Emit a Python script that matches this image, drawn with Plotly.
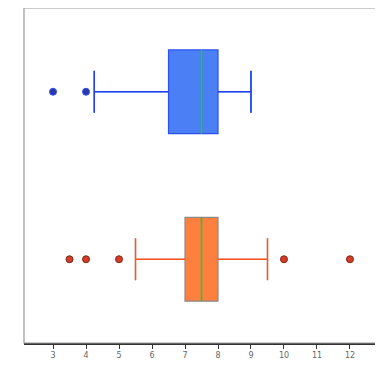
import plotly.graph_objects as go

# Data
groups = ["B", "A"]            # bottom (orange), top (blue)
positions = [1, 2]
q1 = [7.0, 6.5]
median = [7.5, 7.5]
q3 = [8.0, 8.0]
lowerfence = [5.5, 4.25]
upperfence = [9.5, 9.0]
outliers_orange = [3.5, 4.0, 5.0, 10.0, 12.0]
outliers_blue = [3.0, 4.0]
xticks = [3, 4, 5, 6, 7, 8, 9, 10, 11, 12]

fill_colors = ["#ff7f3f", "#4a7ff6"]
edge_colors = ["#8a8a8a", "#2a50f0"]
whisker_colors = ["#ff5522", "#2040f0"]
BW = 0.5

fig = go.Figure()
for i in range(2):
    fig.add_trace(go.Box(
        orientation="h", y=[positions[i]], q1=[q1[i]], median=[median[i]], q3=[q3[i]],
        lowerfence=[lowerfence[i]], upperfence=[upperfence[i]],
        fillcolor=fill_colors[i], line=dict(color=edge_colors[i], width=1.2),
        width=BW, whiskerwidth=0.5, showlegend=False, hoverinfo="skip",
        opacity=1))
    p = positions[i]
    h = BW * 0.5 / 2
    wx = [lowerfence[i], q1[i], None, q3[i], upperfence[i], None,
          lowerfence[i], lowerfence[i], None, upperfence[i], upperfence[i]]
    wy = [p, p, None, p, p, None, p - h, p + h, None, p - h, p + h]
    fig.add_trace(go.Scatter(x=wx, y=wy, mode="lines",
                             line=dict(color=whisker_colors[i], width=1.5),
                             showlegend=False, hoverinfo="skip"))
    fig.add_trace(go.Scatter(x=[median[i], median[i]], y=[p - BW / 2, p + BW / 2],
                             mode="lines", line=dict(color="#22cc22", width=1.5),
                             showlegend=False, hoverinfo="skip"))

fig.add_trace(go.Scatter(x=outliers_orange, y=[positions[0]] * len(outliers_orange),
                         mode="markers",
                         marker=dict(color="#d63a2a", size=7, line=dict(color="#7a2a10", width=1)),
                         showlegend=False, hoverinfo="skip"))
fig.add_trace(go.Scatter(x=outliers_blue, y=[positions[1]] * len(outliers_blue),
                         mode="markers",
                         marker=dict(color="#2a3aa8", size=7, line=dict(color="#3050f0", width=1)),
                         showlegend=False, hoverinfo="skip"))

fig.update_layout(
    width=375, height=352,
    margin=dict(l=16, r=4, t=0, b=15, pad=0),
    paper_bgcolor="white", plot_bgcolor="white",
    font=dict(family="DejaVu Sans", size=8, color="#666666"),
    xaxis=dict(range=[2.12, 12.88], tickvals=xticks, ticktext=[str(t) for t in xticks],
               showgrid=False, zeroline=False, ticks="outside", ticklen=4,
               tickcolor="#333333", showline=True, linecolor="#333333", linewidth=1.5,
               mirror=False),
    yaxis=dict(range=[0.5, 2.5], showticklabels=False, showgrid=False, zeroline=False,
               ticks="", showline=False),
    shapes=[dict(type="rect", xref="paper", yref="paper", x0=0, y0=0, x1=1, y1=1,
                 line=dict(color="#999999", width=1.2), layer="above")],
)
fig.write_html("out.html")
